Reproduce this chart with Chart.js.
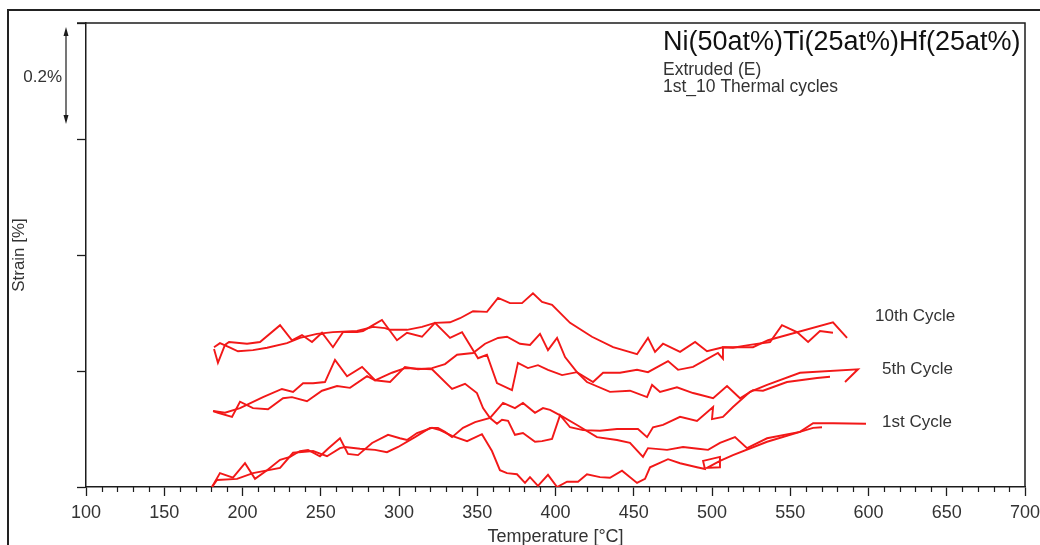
<!DOCTYPE html>
<html>
<head>
<meta charset="utf-8">
<script src="https://cdn.jsdelivr.net/npm/chart.js@4.4.1/dist/chart.umd.min.js"></script>
<style>
  html, body { margin: 0; padding: 0; background: #fff; overflow: hidden; }
  canvas { display: block; }
</style>
</head>
<body>
<canvas id="dil" width="1040" height="545"></canvas>
<script>
// Dilatometer strain vs temperature, NiTiHf extruded, cycles 1 / 5 / 10.
// Each branch is a list of [temperature °C, strain %].

const tempMin = 100, tempMax = 700, tempStep = 50, tempMinorStep = 10;
const strainMin = 0, strainMax = 0.8, strainStep = 0.2;

const heat1st = [[180.5,0.000],[185.6,0.024],[193.9,0.016],[201.6,0.041],[208.0,0.014],[215.7,0.029],[224.0,0.047],[230.4,0.052],[236.7,0.062],[241.9,0.064],[249.5,0.053],[254.6,0.066],[262.3,0.084],[267.4,0.057],[273.8,0.055],[282.8,0.076],[293.0,0.090],[300.6,0.084],[305.1,0.081],[311.5,0.093],[321.1,0.102],[326.2,0.098],[333.9,0.088],[343.5,0.079],[353.0,0.091],[359.4,0.062],[364.5,0.029],[369.0,0.024],[375.4,0.022],[380.5,0.007],[383.7,0.017],[388.8,0.002],[395.2,0.021],[401.0,0.000],[407.4,0.009],[414.4,0.009],[420.1,0.022],[428.4,0.017],[434.8,0.016],[442.5,0.028],[452.1,0.007],[457.2,0.014],[460.4,0.034],[471.9,0.048],[479.6,0.041],[490.4,0.034],[495.5,0.031],[494.3,0.045],[505.1,0.052],[505.1,0.034],[496.8,0.033],[505.1,0.045],[513.4,0.055],[535.2,0.078],[556.2,0.095],[564.6,0.110],[577.3,0.110],[598.4,0.109]];
const cool1st = [[570.3,0.103],[564.6,0.102],[556.2,0.095],[535.2,0.084],[522.4,0.067],[514.7,0.086],[505.1,0.076],[497.5,0.064],[491.1,0.066],[481.5,0.069],[471.3,0.064],[459.1,0.067],[455.9,0.052],[447.6,0.076],[439.3,0.081],[426.5,0.086],[413.7,0.107],[404.8,0.121],[396.5,0.133],[392.0,0.136],[386.9,0.128],[379.2,0.145],[374.1,0.136],[366.5,0.145],[358.2,0.119],[348.6,0.112],[340.9,0.102],[333.9,0.086],[329.4,0.095],[324.9,0.102],[319.8,0.102],[310.2,0.086],[299.4,0.069],[292.3,0.060],[284.7,0.064],[275.1,0.066],[265.5,0.069],[262.3,0.067],[254.0,0.053],[245.1,0.062],[232.3,0.059],[224.0,0.033],[206.7,0.024],[196.5,0.014],[183.7,0.012],[180.5,0.000]];

const heat5th = [[181.2,0.131],[188.8,0.128],[198.4,0.136],[213.1,0.155],[225.2,0.169],[232.3,0.164],[238.7,0.179],[245.1,0.179],[252.7,0.181],[259.1,0.219],[266.8,0.191],[276.4,0.207],[284.7,0.184],[295.5,0.197],[303.8,0.205],[321.1,0.203],[333.9,0.169],[342.2,0.178],[349.8,0.162],[353.7,0.136],[358.2,0.119],[362.6,0.109],[365.8,0.116],[369.7,0.114],[374.1,0.090],[379.2,0.093],[386.9,0.078],[391.4,0.079],[397.8,0.083],[402.9,0.124],[409.3,0.103],[417.6,0.098],[428.4,0.097],[439.3,0.100],[452.7,0.100],[458.5,0.086],[462.3,0.103],[468.7,0.107],[479.6,0.121],[490.4,0.114],[500.7,0.138],[500.0,0.117],[507.0,0.121],[513.4,0.138],[524.3,0.164],[535.2,0.176],[556.2,0.197],[593.3,0.203],[585.0,0.181]];
const cool5th = [[575.4,0.190],[567.1,0.188],[547.9,0.181],[532.6,0.166],[526.2,0.167],[517.9,0.153],[509.6,0.174],[500.7,0.153],[492.3,0.159],[487.9,0.162],[477.6,0.172],[466.8,0.164],[461.7,0.176],[458.5,0.155],[447.6,0.166],[434.8,0.164],[420.1,0.181],[413.7,0.198],[406.1,0.224],[401.0,0.257],[395.2,0.236],[390.1,0.264],[383.7,0.245],[377.3,0.247],[369.0,0.259],[363.3,0.257],[355.0,0.247],[347.3,0.231],[337.1,0.228],[329.4,0.212],[321.1,0.205],[312.1,0.203],[303.8,0.207],[294.3,0.181],[284.7,0.184],[279.6,0.191],[268.7,0.171],[260.4,0.174],[250.8,0.166],[241.2,0.148],[231.6,0.155],[225.9,0.153],[216.3,0.134],[206.7,0.136],[198.4,0.147],[193.3,0.121],[184.3,0.128],[181.2,0.131]];

const heat10th = [[181.8,0.238],[184.3,0.214],[188.8,0.245],[191.4,0.250],[202.9,0.247],[211.2,0.250],[224.0,0.279],[231.6,0.253],[238.0,0.262],[244.4,0.250],[250.8,0.266],[257.8,0.241],[264.2,0.267],[273.2,0.267],[277.0,0.269],[283.4,0.279],[289.1,0.288],[298.7,0.253],[305.1,0.266],[314.7,0.259],[323.0,0.283],[332.6,0.257],[340.3,0.267],[350.5,0.222],[356.2,0.228],[362.6,0.179],[372.2,0.167],[376.0,0.214],[382.4,0.205],[388.8,0.210],[395.2,0.202],[404.2,0.193],[413.7,0.198],[424.0,0.181],[430.4,0.197],[441.2,0.197],[452.1,0.202],[459.1,0.198],[471.9,0.217],[478.3,0.202],[487.9,0.207],[503.8,0.231],[507.0,0.221],[507.0,0.241],[526.2,0.241],[535.8,0.253],[577.3,0.284],[586.3,0.257]];
const cool10th = [[577.3,0.266],[569.0,0.269],[561.4,0.250],[554.3,0.267],[544.7,0.279],[537.1,0.250],[524.3,0.245],[513.4,0.240],[507.0,0.241],[496.8,0.234],[489.2,0.250],[479.6,0.233],[468.7,0.247],[463.6,0.233],[459.1,0.257],[452.1,0.229],[436.8,0.241],[423.3,0.259],[409.3,0.283],[397.8,0.314],[391.4,0.319],[385.6,0.334],[378.6,0.317],[370.9,0.317],[363.3,0.326],[356.2,0.302],[347.3,0.303],[339.0,0.291],[332.6,0.284],[323.0,0.283],[314.7,0.276],[305.1,0.271],[294.3,0.271],[291.1,0.274],[283.4,0.276],[273.2,0.269],[257.8,0.267],[247.6,0.264],[236.7,0.257],[228.4,0.248],[215.7,0.240],[206.7,0.236],[197.1,0.234],[191.4,0.241],[185.6,0.248],[181.8,0.241]];

const branchNames = ['1st heating', '1st cooling', '5th heating', '5th cooling', '10th heating', '10th cooling'];
const branches = [heat1st, cool1st, heat5th, cool5th, heat10th, cool10th];

const cycleLabels = ['10th Cycle', '5th Cycle', '1st Cycle'];
const titleLines = ['Ni(50at%)Ti(25at%)Hf(25at%)', 'Extruded (E)', '1st_10 Thermal cycles'];

const INK = '#1c1c1c';
const TEXT = '#333333';
const RED = 'rgb(242,24,24)';
const FONT = '"Liberation Sans", Arial, Helvetica, sans-serif';

Chart.defaults.font.family = FONT;
Chart.defaults.color = TEXT;

// outer frame, plot frame, minor ticks, scale arrow, annotations
const decorations = {
  id: 'decorations',
  beforeDraw(chart) {
    const { ctx, width, height } = chart;
    ctx.save();
    ctx.fillStyle = '#fff';
    ctx.fillRect(0, 0, width, height);
    ctx.strokeStyle = '#222';
    ctx.lineWidth = 2;
    ctx.beginPath();
    ctx.moveTo(8, height + 5);
    ctx.lineTo(8, 10);
    ctx.lineTo(width + 5, 10);
    ctx.stroke();
    ctx.restore();
  },
  afterDraw(chart) {
    const { ctx, chartArea: a, scales: { x, y } } = chart;
    ctx.save();
    ctx.strokeStyle = INK;
    ctx.lineWidth = 1.5;
    ctx.beginPath();
    ctx.moveTo(a.left - 9, a.top);
    ctx.lineTo(a.right, a.top);
    ctx.lineTo(a.right, a.bottom);
    ctx.stroke();

    // minor temperature ticks
    ctx.lineWidth = 1.2;
    ctx.beginPath();
    for (let t = tempMin; t <= tempMax; t += tempMinorStep) {
      if (t % tempStep === 0) continue;
      const px = Math.round(x.getPixelForValue(t)) + 0.5;
      ctx.moveTo(px, a.bottom);
      ctx.lineTo(px, a.bottom + 5);
    }
    ctx.stroke();

    // 0.2 % scale arrow next to the strain axis
    const ax = a.left - 20;
    const yTop = y.getPixelForValue(strainMax) + 4;
    const yBot = y.getPixelForValue(strainMax - strainStep) - 15;
    ctx.lineWidth = 1.2;
    ctx.beginPath();
    ctx.moveTo(ax, yTop + 4);
    ctx.lineTo(ax, yBot - 4);
    ctx.stroke();
    ctx.fillStyle = INK;
    ctx.beginPath();
    ctx.moveTo(ax, yTop); ctx.lineTo(ax - 2.5, yTop + 9); ctx.lineTo(ax + 2.5, yTop + 9); ctx.closePath();
    ctx.moveTo(ax, yBot); ctx.lineTo(ax - 2.5, yBot - 9); ctx.lineTo(ax + 2.5, yBot - 9); ctx.closePath();
    ctx.fill();

    ctx.fillStyle = TEXT;
    ctx.font = '17px ' + FONT;
    ctx.textBaseline = 'middle';
    ctx.textAlign = 'right';
    ctx.fillText('0.2%', ax - 4, (yTop + yBot) / 2 + 2);

    // title block
    const tx = a.right - 362;
    ctx.textAlign = 'left';
    ctx.textBaseline = 'alphabetic';
    ctx.fillStyle = '#111';
    ctx.font = '27px ' + FONT;
    ctx.fillText(titleLines[0], tx, 50);
    ctx.fillStyle = TEXT;
    ctx.font = '17.5px ' + FONT;
    ctx.fillText(titleLines[1], tx, 75);
    ctx.fillText(titleLines[2], tx, 92);

    // cycle labels beside the right ends of the loops
    ctx.font = '17px ' + FONT;
    ctx.fillText(cycleLabels[0], a.right - 150, 321);
    ctx.fillText(cycleLabels[1], a.right - 143, 374);
    ctx.fillText(cycleLabels[2], a.right - 143, 427);
    ctx.restore();
  }
};

new Chart(document.getElementById('dil'), {
  type: 'scatter',
  data: {
    datasets: branches.map((pts, i) => ({
      label: branchNames[i],
      data: pts.map(([t, s]) => ({ x: t, y: s })),
      showLine: true,
      borderColor: RED,
      backgroundColor: RED,
      borderWidth: 1.9,
      pointRadius: 0,
      tension: 0
    }))
  },
  options: {
    responsive: false,
    animation: false,
    devicePixelRatio: 1,
    layout: { padding: { left: 9, top: 23, right: 15, bottom: 0 } },
    plugins: { legend: { display: false }, tooltip: { enabled: false } },
    scales: {
      x: {
        type: 'linear',
        min: tempMin,
        max: tempMax,
        afterFit(scale) {
          scale.height = 58;
          scale.paddingLeft = 0;
          scale.paddingRight = 0;
        },
        border: { color: INK, width: 1.5 },
        grid: { drawOnChartArea: false, drawTicks: true, tickLength: 9, tickColor: INK, tickWidth: 1.3 },
        ticks: { stepSize: tempStep, padding: 6, color: TEXT, font: { size: 18 }, maxRotation: 0 },
        title: { display: true, text: 'Temperature [°C]', color: TEXT, font: { size: 18, lineHeight: 0.9 }, padding: 0 }
      },
      y: {
        min: strainMin,
        max: strainMax,
        afterFit(scale) { scale.width = 77; },
        border: { color: INK, width: 1.5 },
        grid: { drawOnChartArea: false, drawTicks: true, tickLength: 9, tickColor: INK, tickWidth: 1.3 },
        ticks: { stepSize: strainStep, display: false },
        title: { display: true, text: 'Strain [%]', color: TEXT, font: { size: 17 }, padding: 0 }
      }
    }
  },
  plugins: [decorations]
});
</script>
</body>
</html>
